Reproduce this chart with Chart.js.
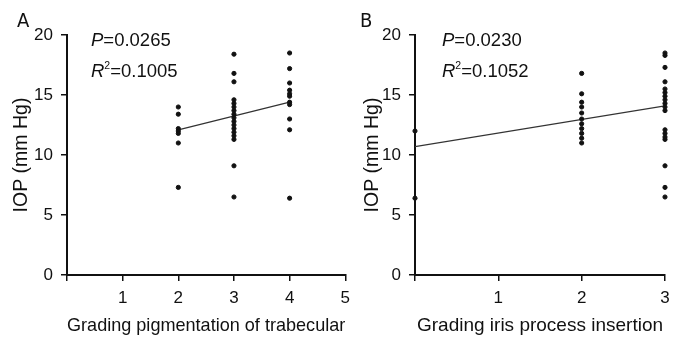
<!DOCTYPE html>
<html>
<head>
<meta charset="utf-8">
<script src="https://cdn.jsdelivr.net/npm/chart.js@4.4.0/dist/chart.umd.min.js"></script>
<style>
  body { margin: 0; background: #fff; }
  canvas { position: absolute; top: 0; }
  #chartA { left: 0; }
  #chartB { left: 345px; }
</style>
</head>
<body>
<canvas id="chartA" width="357" height="338"></canvas>
<canvas id="chartB" width="341" height="338"></canvas>
<script>
/* IOP vs grading - two scatter panels with fitted lines */

// Panel A: grading pigmentation of trabecular
const aGrade2 = [14.0, 13.4, 12.2, 12.0, 11.8, 11.0, 7.3];
const aGrade3 = [18.4, 16.8, 16.1, 14.6, 14.3, 14.0, 13.7, 13.4, 13.1, 12.8, 12.5, 12.2, 11.9, 11.6, 11.3, 9.1, 6.5];
const aGrade4 = [18.5, 17.2, 16.0, 15.4, 15.1, 14.9, 14.4, 14.2, 13.0, 12.1, 6.4];
const aFitX = [2, 4];
const aFitY = [12.1, 14.4];

// Panel B: grading iris process insertion
const bGrade0 = [12.0, 6.4];
const bGrade2 = [16.8, 15.1, 14.4, 14.0, 13.5, 13.0, 12.6, 12.2, 11.8, 11.4, 11.0];
const bGrade3 = [18.5, 18.3, 17.3, 16.1, 15.5, 15.2, 14.9, 14.6, 14.3, 14.0, 13.7, 12.1, 11.8, 11.5, 11.3, 9.1, 7.3, 6.5];
const bFitX = [0, 3];
const bFitY = [10.7, 14.1];

const yTicks = [0, 5, 10, 15, 20];

const FONT = "'Liberation Sans', Arial, sans-serif";
const INK = '#111';

function pts(x, ys) { return ys.map(y => ({ x, y })); }
function fit(xs, ys) { return xs.map((x, i) => ({ x, y: ys[i] })); }

// panel letter + P / R² annotation
const statsText = {
  id: 'statsText',
  afterDraw(chart, args, opts) {
    const ctx = chart.ctx;
    const area = chart.chartArea;
    ctx.save();
    ctx.fillStyle = INK;
    ctx.textBaseline = 'alphabetic';
    ctx.font = "20px 'Liberation Sans Narrow', 'DejaVu Sans Condensed', sans-serif";
    ctx.fillText(opts.letter, opts.letterX, 27);

    let x = area.left + opts.dx;
    ctx.font = 'italic 18.5px ' + FONT;
    ctx.fillText('P', x, 46);
    let w = ctx.measureText('P').width;
    ctx.font = '18.5px ' + FONT;
    ctx.fillText('=' + opts.p, x + w, 46);

    ctx.font = 'italic 18.5px ' + FONT;
    ctx.fillText('R', x, 77);
    w = ctx.measureText('R').width;
    ctx.font = '10.5px ' + FONT;
    ctx.fillText('2', x + w, 69);
    const w2 = ctx.measureText('2').width;
    ctx.font = '18.5px ' + FONT;
    ctx.fillText('=' + opts.r2, x + w + w2, 77);
    ctx.restore();
  }
};

function makeChart(id, groups, fitPts, xMax, xTitle, yTitlePad, padRight, leftW, stats) {
  const datasets = groups.map(g => ({
    data: g,
    backgroundColor: INK,
    borderColor: INK,
    pointRadius: 2.1,
    pointHoverRadius: 2.1,
    clip: false,
  }));
  datasets.push({
    type: 'line',
    data: fitPts,
    borderColor: '#333',
    borderWidth: 1.2,
    pointRadius: 0,
    fill: false,
    tension: 0,
  });

  return new Chart(document.getElementById(id), {
    type: 'scatter',
    data: { datasets },
    options: {
      responsive: false,
      animation: false,
      layout: { padding: { top: 35, right: padRight, bottom: 0, left: 0 } },
      plugins: {
        legend: { display: false },
        tooltip: { enabled: false },
        statsText: stats,
      },
      scales: {
        x: {
          type: 'linear',
          min: 0, max: xMax,
          afterBuildTicks: s => { s.ticks = Array.from({ length: xMax + 1 }, (_, i) => ({ value: i })); },
          afterFit: s => { s.height = 63; },
          ticks: {
            color: INK, padding: 7,
            font: { family: FONT, size: 17 },
            callback: v => v === 0 ? '' : v,
          },
          grid: { display: true, drawOnChartArea: false, drawTicks: true, tickLength: 6, color: INK, lineWidth: 1.5 },
          border: { display: true, color: INK, width: 2 },
          title: { display: true, text: xTitle, color: INK, font: { family: FONT, size: 19 }, padding: { top: 0, bottom: 1 } },
        },
        y: {
          min: 0, max: 20,
          afterBuildTicks: s => { s.ticks = yTicks.map(v => ({ value: v })); },
          afterFit: s => { s.width = leftW; },
          ticks: { color: INK, padding: 8, font: { family: FONT, size: 17 } },
          grid: { display: true, drawOnChartArea: false, drawTicks: true, tickLength: 6, color: INK, lineWidth: 1.5 },
          border: { display: true, color: INK, width: 2 },
          title: { display: true, text: 'IOP (mm Hg)', color: INK, font: { family: FONT, size: 19.5 }, padding: { top: yTitlePad, bottom: 0 } },
        },
      },
    },
    plugins: [statsText],
  });
}

makeChart('chartA',
  [pts(2, aGrade2), pts(3, aGrade3), pts(4, aGrade4)],
  fit(aFitX, aFitY), 5, 'Grading pigmentation of trabecular', 10, 5, 67,
  { letter: 'A', letterX: 17, dx: 24, p: '0.0265', r2: '0.1005' });

makeChart('chartB',
  [pts(0, bGrade0), pts(2, bGrade2), pts(3, bGrade3)],
  fit(bFitX, bFitY), 3, 'Grading iris process insertion', 16, 21, 70,
  { letter: 'B', letterX: 15, dx: 27, p: '0.0230', r2: '0.1052' });
</script>
</body>
</html>
